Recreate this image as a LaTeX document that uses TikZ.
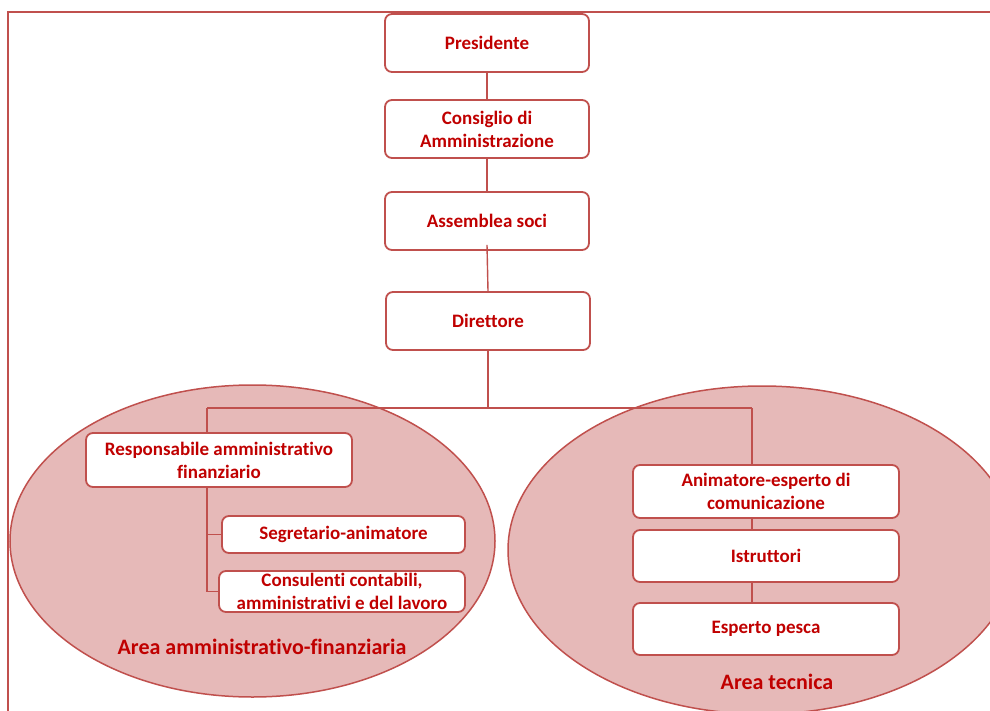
\documentclass[tikz,border=0pt]{standalone}
\usepackage{fontspec}
\setmainfont{Carlito}[Ligatures={NoCommon,NoRequired}, RawFeature=-calt, RawFeature=-clig]
\definecolor{bord}{HTML}{C0504D}
\definecolor{txt}{HTML}{C00000}
\definecolor{efill}{HTML}{E6B9B8}
\tikzset{
  orgbox/.style={draw=bord, line width=1.8pt, fill=white, rounded corners=7pt,
    text=txt, font=\bfseries\fontsize{19}{23}\selectfont, align=center,
    inner sep=0pt, minimum width=#1},
  orgbox/.default=204pt,
  conn/.style={draw=bord, line width=1.4pt},
  arealabel/.style={text=txt, font=\bfseries\fontsize{22}{26}\selectfont},
}
\begin{document}
\begin{tikzpicture}[x=1pt,y=-1pt]
\useasboundingbox (0,0) rectangle (990,711);
\clip (0,0) rectangle (990,711);
% areas
\draw[bord, line width=1.5pt, fill=efill] (252.5,541) ellipse [x radius=242.5, y radius=156];
\draw[bord, line width=1.5pt, fill=efill] (762,550) ellipse [x radius=254, y radius=164];
% frame
\draw[bord, line width=1.5pt] (8,711) -- (8,12) -- (990,12);
% boxes
\node[orgbox, minimum height=58pt] (pres) at (487,43) {Presidente};
\node[orgbox, minimum height=58pt] (cons) at (487,129) {Consiglio di\\Amministrazione};
\node[orgbox, minimum height=58pt] (ass) at (487,221) {Assemblea soci};
\node[orgbox, minimum height=58pt] (dir) at (488,321) {Direttore};
\node[orgbox=266pt, minimum height=54pt] (resp) at (219,460) {Responsabile amministrativo\\finanziario};
\node[orgbox=243pt, minimum height=37pt] (seg) at (343.5,534.5) {Segretario-animatore};
\node[orgbox=246pt, minimum height=41pt] (cnsl) at (342,591.5) {Consulenti contabili,\\amministrativi e del lavoro};
\node[orgbox=266pt, minimum height=53pt] (anim) at (766,491.5) {Animatore-esperto di\\comunicazione};
\node[orgbox=266pt, minimum height=52pt] (istr) at (766,556) {Istruttori};
\node[orgbox=266pt, minimum height=52pt] (esp) at (766,629) {Esperto pesca};
% labels
\node[arealabel] (la) at (262,647) {Area amministrativo-finanziaria};
\node[arealabel] (lt) at (777,682) {Area tecnica};
% connectors
\coordinate (jl) at (207,408);
\coordinate (jr) at (752,408);
\draw[conn] (pres.south) -- (cons.north);
\draw[conn] (cons.south) -- (ass.north);
\draw[conn] ([yshift=6pt]ass.south) -- (dir.north);
\draw[conn] (dir.south) -- (dir.south |- jl);
\draw[conn] (jl) -- (jr);
\draw[conn] (jl) -- (jl |- resp.north);
\draw[conn] (jr) -- (jr |- anim.north);
\draw[conn] (jl |- resp.south) -- (jl |- cnsl.west) -- (cnsl.west);
\draw[conn] (jl |- seg.west) -- (seg.west);
\draw[conn] (jr |- anim.south) -- (jr |- istr.north);
\draw[conn] (jr |- istr.south) -- (jr |- esp.north);
\end{tikzpicture}
\end{document}
